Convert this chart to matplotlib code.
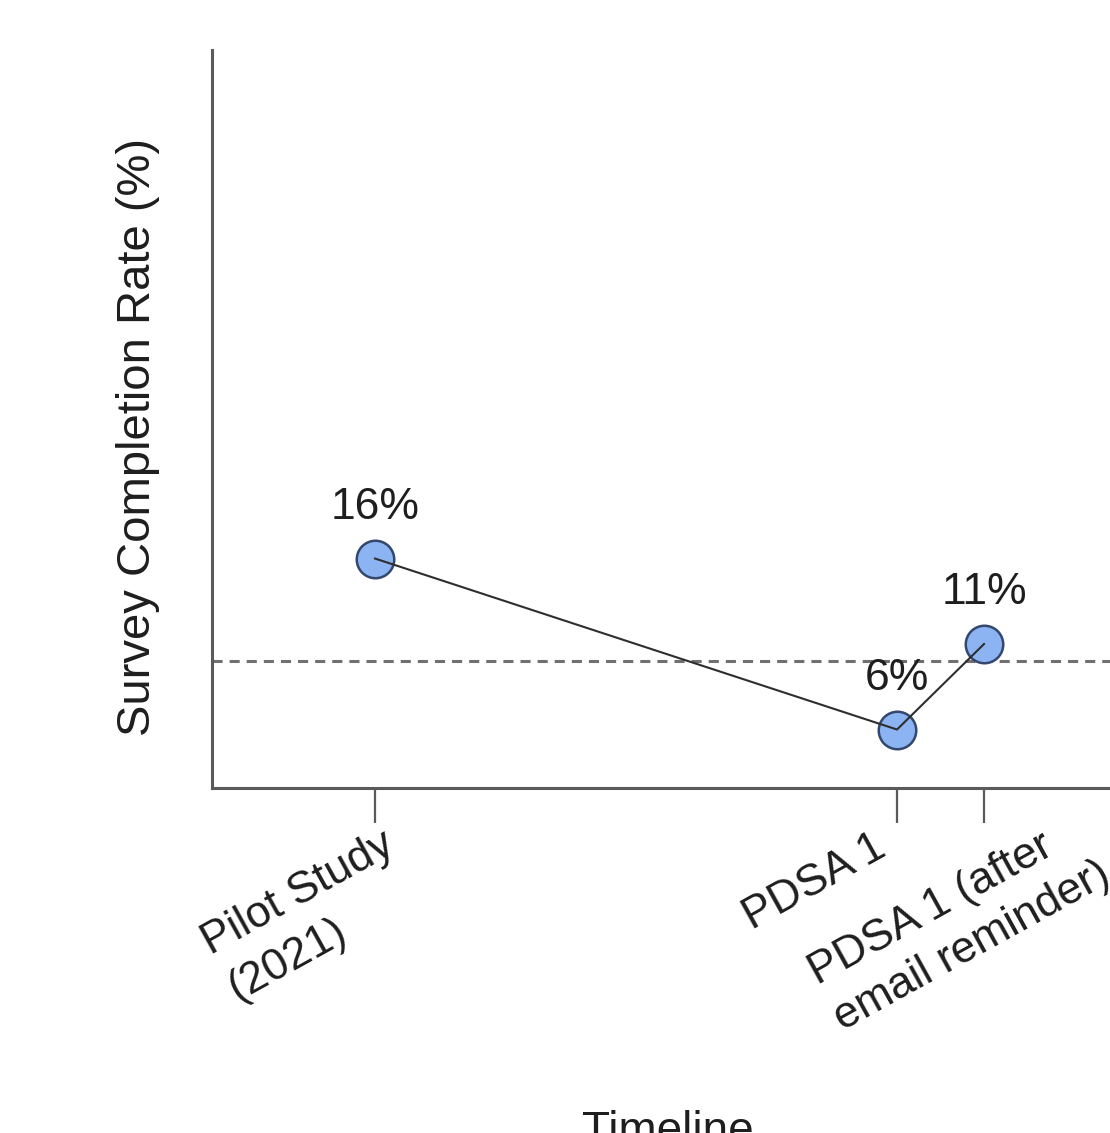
import matplotlib
matplotlib.use("Agg")
import matplotlib.pyplot as plt
from matplotlib.transforms import ScaledTranslation

plt.rcParams['font.family'] = ['Liberation Sans', 'DejaVu Sans']

# ---- data ----
categories = ["Pilot Study\n(2021)", "PDSA 1", "PDSA 1 (after\nemail reminder)"]
timeline_pos = [0, 6, 7]
completion_rate = [16, 6, 11]
value_labels = ["16%", "6%", "11%"]
target_rate = 10

W, H = 1110, 1133
fig = plt.figure(figsize=(W / 100, H / 100), dpi=100)
ax = fig.add_axes([212 / W, (H - 788) / H, (1124 - 212) / W, 738 / H])

spine_col = '#5a5a5a'
text_col = '#1e1e1e'

# dashed reference line
ax.axhline(target_rate, color='#707070', lw=2.2, ls=(0, (3.3, 2.3)), zorder=1)

# markers then connecting line on top
ax.plot(timeline_pos, completion_rate, ls='none', marker='o', ms=27,
        mfc='#8cb3f2', mec='#34476e', mew=1.8, zorder=2)
ax.plot(timeline_pos, completion_rate, color='#2e2e2e', lw=1.5, zorder=3)

for xp, yv, lab in zip(timeline_pos, completion_rate, value_labels):
    ax.annotate(lab, (xp, yv), xytext=(0, 22), textcoords='offset points',
                ha='center', va='bottom', fontsize=32, color=text_col)

ax.set_xlim(-1.8736, 8.609)
ax.set_ylim(2.58, 45.74)

for s in ['top', 'right']:
    ax.spines[s].set_visible(False)
for s in ['left', 'bottom']:
    ax.spines[s].set_color(spine_col)
    ax.spines[s].set_linewidth(2.2)

ax.set_yticks([])
ax.set_xticks(timeline_pos)
ax.set_xticklabels(categories, fontsize=32, color=text_col, rotation=29,
                   ha='left', va='baseline', rotation_mode='anchor',
                   multialignment='left', linespacing=1.35)
ax.tick_params(axis='x', length=25, width=1.6, color=spine_col, pad=3)

# shift each rotated label so its first line starts where the reference has it
offsets_px = [(-144, -164), (-145, -103), (-147, -194)]
for lbl, (dx, dy) in zip(ax.get_xticklabels(), offsets_px):
    lbl.set_transform(lbl.get_transform() +
                      ScaledTranslation(dx / 100, dy / 100, fig.dpi_scale_trans))

ax.set_ylabel("Survey Completion Rate (%)", fontsize=34, color=text_col)
ax.yaxis.set_label_coords(-0.057, 0.4756)
ax.set_xlabel("Timeline", fontsize=33, color=text_col, va='top')
ax.xaxis.set_label_coords(0.5, -0.4363)

fig.savefig("out.png", dpi=100, facecolor='white')
